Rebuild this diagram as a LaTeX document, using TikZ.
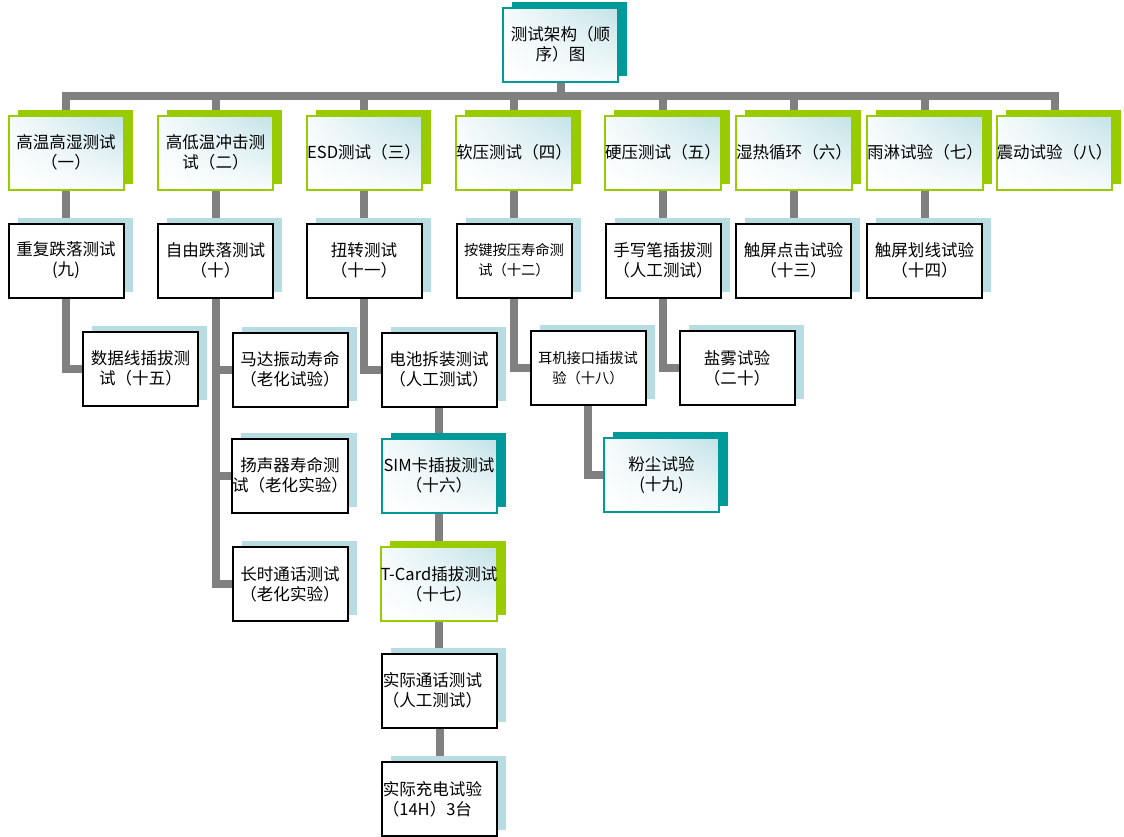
\documentclass[tikz,border=0pt]{standalone}
\usepackage{fontspec}
\newfontfamily\cjk{Noto Sans CJK SC}
\usetikzlibrary{shadows,shadings,backgrounds}
\definecolor{leaf}{HTML}{99CC00}
\definecolor{sea}{HTML}{009999}
\definecolor{pale}{HTML}{B7DDE3}
\definecolor{bar}{HTML}{808080}
\tikzset{
  box/.style={draw, line width=1.5pt, minimum width=86.25pt, minimum height=55.5pt,
    inner sep=0pt, align=center, font=\cjk\fontsize{12.4}{15}\selectfont},
  colorbox/.style={box, draw=#1, shade, upper right=pale!85, upper left=pale!12,
    lower left=white, lower right=pale!10,
    general shadow={shadow xshift=6.75pt, shadow yshift=4.5pt, fill=#1}},
  blackbox/.style={box, draw=black, fill=white,
    general shadow={shadow xshift=6.75pt, shadow yshift=4.5pt, fill=pale}},
  small/.style={font=\cjk\fontsize{10.7}{15}\selectfont},
  flushleft/.style={text width=85pt, align=left},
  conn/.style={draw=bar, line width=6pt, line join=miter}
}
\begin{document}
\begin{tikzpicture}[x=0.75pt, y=-0.75pt]
\useasboundingbox (0,0) rectangle (1124,836);

\node[colorbox=sea] (top) at (560.5,44.5) {测试架构（顺\\序）图};

% first row
\node[colorbox=leaf] (a1) at (66,152.5) {高温高湿测试\\（一）};
\node[colorbox=leaf] (a2) at (215.5,152.5) {高低温冲击测\\试（二）};
\node[colorbox=leaf] (a3) at (364,152.5) {ESD测试（三）};
\node[colorbox=leaf] (a4) at (514,152.5) {软压测试（四）};
\node[colorbox=leaf] (a5) at (663,152.5) {硬压测试（五）};
\node[colorbox=leaf] (a6) at (794,152.5) {湿热循环（六）};
\node[colorbox=leaf] (a7) at (925,152.5) {雨淋试验（七）};
\node[colorbox=leaf] (a8) at (1054.5,152.5) {震动试验（八）};

% second row
\node[blackbox] (b1) at (66,260.5) {重复跌落测试\\(九)};
\node[blackbox] (b2) at (215.5,260.5) {自由跌落测试\\（十）};
\node[blackbox] (b3) at (364,260.5) {扭转测试\\（十一）};
\node[blackbox, small] (b4) at (514,260.5) {按键按压寿命测\\试（十二）};
\node[blackbox] (b5) at (663,260.5) {手写笔插拔测\\（人工测试）};
\node[blackbox] (b6) at (793.5,260.5) {触屏点击试验\\（十三）};
\node[blackbox] (b7) at (924.5,260.5) {触屏划线试验\\（十四）};

% lower boxes
\node[blackbox] (dataline) at (140.5,368.5) {数据线插拔测\\试（十五）};
\node[blackbox] (motor) at (290,369.5) {马达振动寿命\\（老化试验）};
\node[blackbox] (speaker) at (290,475.5) {扬声器寿命测\\试（老化实验）};
\node[blackbox] (longcall) at (290,584) {长时通话测试\\（老化实验）};
\node[blackbox] (battery) at (439,369.5) {电池拆装测试\\（人工测试）};
\node[colorbox=sea] (sim) at (439,475.5) {SIM卡插拔测试\\（十六）};
\node[colorbox=leaf] (tcard) at (439,584) {T-Card插拔测试\\（十七）};
\node[blackbox, flushleft] (realcall) at (439.5,690.5) {实际通话测试\\（人工测试）};
\node[blackbox, flushleft] (charge) at (439.5,799) {实际充电试验\\（14H）3台};
\node[blackbox, small] (earphone) at (588,368) {耳机接口插拔试\\验（十八）};
\node[colorbox=sea] (dust) at (661.5,475) {粉尘试验\\(十九)};
\node[blackbox] (saltfog) at (737,368) {盐雾试验\\（二十）};

\begin{scope}[on background layer]
\coordinate (bus) at (0,96);
\draw[conn] (top.south) -- (top.south |- bus);
\draw[conn] (a1.north) -- (a1.north |- bus) -- (a8.north |- bus) -- (a8.north);
\foreach \n in {a2,a3,a4,a5,a6,a7}
  \draw[conn] (\n.north |- bus) -- (\n.north);
\foreach \n/\m in {a1/b1,a2/b2,a3/b3,a4/b4,a5/b5,a6/b6,a7/b7}
  \draw[conn] (\n.south) -- (\n.south |- \m.north);
\draw[conn] (b1.south) |- (dataline.west);
\draw[conn] (b2.south) |- (longcall.west);
\draw[conn] (b2.south |- motor) -- (motor.west);
\draw[conn] (b2.south |- speaker) -- (speaker.west);
\draw[conn] (b3.south) |- (battery.west);
\draw[conn] (battery.south) -- (sim.north);
\draw[conn] (sim.south) -- (tcard.north);
\draw[conn] (tcard.south) -- (tcard.south |- realcall.north);
\draw[conn] (realcall.south) -- (realcall.south |- charge.north);
\draw[conn] (b4.south) |- (earphone.west);
\draw[conn] (earphone.south) |- (dust.west);
\draw[conn] (b5.south) |- (saltfog.west);
\end{scope}
\end{tikzpicture}
\end{document}
